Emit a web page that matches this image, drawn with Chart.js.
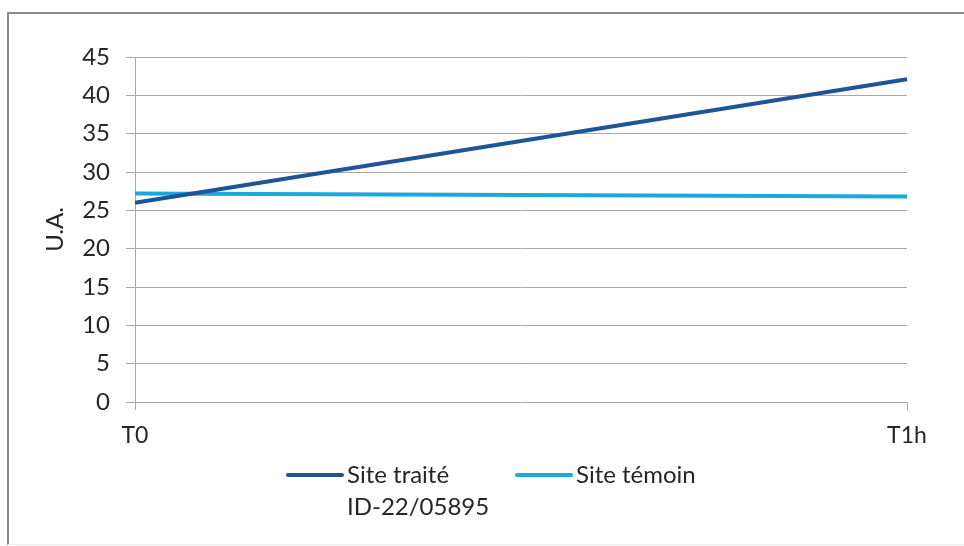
<!DOCTYPE html>
<html>
<head>
<meta charset="utf-8">
<script src="https://cdn.jsdelivr.net/npm/chart.js@4.4.0/dist/chart.umd.min.js"></script>
<style>
    html, body { margin: 0; padding: 0; background: #fff; }
    #wrap { position: relative; width: 964px; height: 546px; overflow: hidden; }
    #frame { position: absolute; left: 7px; top: 12px; width: 970px; height: 533px; border-top: 2px solid #8c8c8c; border-left: 2px solid #8c8c8c; border-bottom: 1px solid #eeeeee; box-sizing: border-box; }
    canvas { position: absolute; left: 0; top: 0; }
</style>
</head>
<body>
<div id="wrap">
    <div id="frame"></div>
    <canvas id="LineChart" width="964" height="546"></canvas>
</div>
<script>
// chart values
var timeLabels = ["T0", "T1h"];
var treatedValues = [26.0, 42.1];
var controlValues = [27.2, 26.8];
var seriesNames = ["Site traité\nID-22/05895", "Site témoin"];
var yTitle = "U.A.";

var darkBlue = "#1d5597";
var lightBlue = "#1aa8de";
var textColor = "#262626";
var gridColor = "#a8a8a8";
var fontFamily = "Lato, 'Open Sans', sans-serif";

//Legend drawn by hand so the first label can wrap onto two lines
var bottomLegend = {
    id: "bottomLegend",
    afterDraw: function(chart){
        var ctx = chart.ctx;
        var spots = [{x: 288, y: 475}, {x: 517, y: 475}];
        ctx.save();
        ctx.font = "24px " + fontFamily;
        ctx.fillStyle = textColor;
        ctx.textBaseline = "middle";
        chart.data.datasets.forEach(function(ds, i){
            var p = spots[i];
            ctx.strokeStyle = ds.borderColor;
            ctx.lineWidth = 4;
            ctx.lineCap = "round";
            ctx.beginPath();
            ctx.moveTo(p.x, p.y);
            ctx.lineTo(p.x + 54, p.y);
            ctx.stroke();
            var lines = ds.label.split("\n");
            for(let j = 0; j < lines.length; j++){
                ctx.fillText(lines[j], p.x + 59, p.y + j * 32);
            }
        });
        ctx.restore();
    }
};

var config = {
    type: "line",
    data: {
        labels: timeLabels,
        datasets: [{
            label: seriesNames[0],
            data: treatedValues,
            borderColor: darkBlue,
            backgroundColor: darkBlue,
            borderWidth: 4,
            pointRadius: 0,
            tension: 0
        }, {
            label: seriesNames[1],
            data: controlValues,
            borderColor: lightBlue,
            backgroundColor: lightBlue,
            borderWidth: 4,
            pointRadius: 0,
            tension: 0
        }]
    },
    options: {
        responsive: false,
        animation: false,
        devicePixelRatio: 1,
        layout: {
            padding: { top: 57, right: 57, left: 0, bottom: 0 }
        },
        plugins: {
            legend: { display: false },
            tooltip: { enabled: false }
        },
        scales: {
            x: {
                offset: false,
                afterFit: function(scale){ scale.height = 144; },
                grid: {
                    drawOnChartArea: false,
                    drawTicks: true,
                    tickLength: 8,
                    color: gridColor
                },
                border: { display: false },
                ticks: {
                    color: textColor,
                    padding: 12,
                    maxRotation: 0,
                    font: { family: fontFamily, size: 23 }
                }
            },
            y: {
                min: 0,
                max: 45,
                afterFit: function(scale){ scale.width = 135; },
                grid: {
                    color: gridColor,
                    tickLength: 9,
                    lineWidth: 1
                },
                border: { display: true, color: gridColor },
                ticks: {
                    stepSize: 5,
                    color: textColor,
                    padding: 16,
                    font: { family: fontFamily, size: 24 }
                },
                title: {
                    display: true,
                    text: yTitle,
                    color: textColor,
                    padding: { top: 41, bottom: 0 },
                    font: { family: fontFamily, size: 24 }
                }
            }
        }
    },
    plugins: [bottomLegend]
};

var chartCanvas = document.getElementById("LineChart");
window.myLine = new Chart(chartCanvas, config);
</script>
</body>
</html>
